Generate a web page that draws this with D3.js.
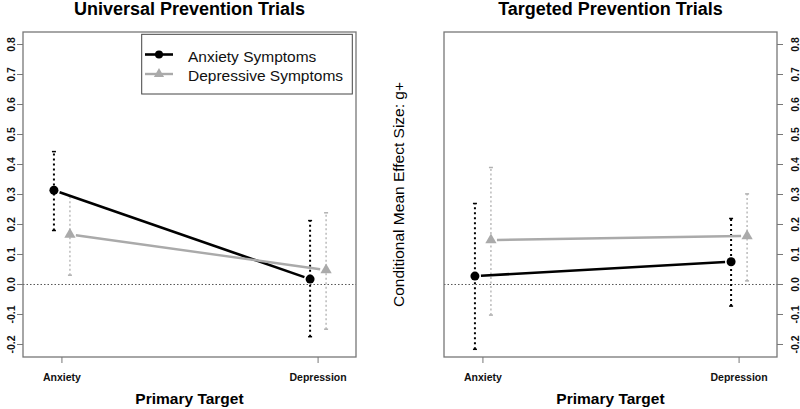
<!DOCTYPE html>
<html><head><meta charset="utf-8">
<script src="https://cdn.jsdelivr.net/npm/d3@7"></script>
<style>body{margin:0;background:#fff}svg{display:block}text{font-family:"Liberation Sans",Arial,sans-serif}</style>
</head><body><svg id="c" width="800" height="409"></svg>
<script>
const categories = ["Anxiety", "Depression"];
const yTicks = [-0.2, -0.1, 0.0, 0.1, 0.2, 0.3, 0.4, 0.5, 0.6, 0.7, 0.8];
const seriesNames = ["Anxiety Symptoms", "Depressive Symptoms"];
const panelTitles = ["Universal Prevention Trials", "Targeted Prevention Trials"];
// Universal
const uniAnxMean = [0.314, 0.018];
const uniAnxLow  = [0.180, -0.174];
const uniAnxHigh = [0.443, 0.213];
const uniDepMean = [0.167, 0.048];
const uniDepLow  = [0.031, -0.149];
const uniDepHigh = [0.295, 0.239];
// Targeted
const tarAnxMean = [0.028, 0.076];
const tarAnxLow  = [-0.216, -0.072];
const tarAnxHigh = [0.270, 0.220];
const tarDepMean = [0.148, 0.162];
const tarDepLow  = [-0.102, 0.012];
const tarDepHigh = [0.390, 0.302];

const panels = [
  {title: panelTitles[0], x0: 23, axis: "left",
   series: [{mean: uniAnxMean, lo: uniAnxLow, hi: uniAnxHigh}, {mean: uniDepMean, lo: uniDepLow, hi: uniDepHigh}]},
  {title: panelTitles[1], x0: 444, axis: "right",
   series: [{mean: tarAnxMean, lo: tarAnxLow, hi: tarAnxHigh}, {mean: tarDepMean, lo: tarDepLow, hi: tarDepHigh}]}
];
const styles = [
  {color: "#000", lw: 2.6, ebColor: "#000", ebW: 2, ebDash: "2,3", off: -8, shape: "circle"},
  {color: "#aaaaaa", lw: 2.4, ebColor: "#b0b0b0", ebW: 1.3, ebDash: "2,2.5", off: 8, shape: "triangle"}
];

const svg = d3.select("#c");
const W = 333, plotTop = 32, plotBottom = 357;
const y = d3.scaleLinear().domain([-0.2417, 0.8417]).range([plotBottom, plotTop]);
const boxColor = "#777";

panels.forEach((p, pi) => {
  const g = svg.append("g");
  const x = d3.scaleLinear().domain([0.848, 2.148]).range([p.x0, p.x0 + W]);
  const cx = i => x(i + 1);
  g.append("line").attr("x1", p.x0).attr("x2", p.x0 + W).attr("y1", y(0)).attr("y2", y(0))
    .attr("stroke", "#555").attr("stroke-width", 1).attr("stroke-dasharray", "1.5,2");
  p.series.forEach((s, si) => {
    const st = styles[si];
    categories.forEach((c, i) => {
      const px = cx(i) + st.off;
      g.append("line").attr("x1", px).attr("x2", px).attr("y1", y(s.lo[i])).attr("y2", y(s.hi[i]))
        .attr("stroke", st.ebColor).attr("stroke-width", st.ebW).attr("stroke-dasharray", st.ebDash);
      [s.lo[i], s.hi[i]].forEach(v => {
        g.append("line").attr("x1", px - 2).attr("x2", px + 2).attr("y1", y(v)).attr("y2", y(v))
          .attr("stroke", st.ebColor).attr("stroke-width", 1.5);
      });
    });
  });
  p.series.forEach((s, si) => {
    const st = styles[si];
    const ax = cx(0) + st.off, ay = y(s.mean[0]);
    const bx = cx(1) + st.off, by = y(s.mean[1]);
    const dx = bx - ax, dy = by - ay, L = Math.hypot(dx, dy), gap = 6;
    g.append("line").attr("x1", ax + dx / L * gap).attr("y1", ay + dy / L * gap)
      .attr("x2", bx - dx / L * gap).attr("y2", by - dy / L * gap)
      .attr("stroke", st.color).attr("stroke-width", st.lw);
  });
  p.series.forEach((s, si) => {
    const st = styles[si];
    categories.forEach((c, i) => {
      const px = cx(i) + st.off, py = y(s.mean[i]);
      if (st.shape === "circle") {
        g.append("circle").attr("cx", px).attr("cy", py).attr("r", 4.5).attr("fill", st.color);
      } else {
        g.append("path").attr("d", d3.symbol(d3.symbolTriangle, 55)()).attr("transform", `translate(${px},${py})`)
          .attr("fill", st.color);
      }
    });
  });
  g.append("rect").attr("x", p.x0).attr("y", plotTop).attr("width", W).attr("height", plotBottom - plotTop)
    .attr("fill", "none").attr("stroke", boxColor).attr("stroke-width", 1.3);
  categories.forEach((c, i) => {
    g.append("line").attr("x1", cx(i)).attr("x2", cx(i)).attr("y1", plotBottom).attr("y2", plotBottom + 6)
      .attr("stroke", boxColor).attr("stroke-width", 1);
    g.append("text").attr("x", cx(i)).attr("y", 381).attr("text-anchor", "middle")
      .attr("font-size", "10.5px").attr("font-weight", "bold").attr("fill", "#111").text(c);
  });
  const isLeft = p.axis === "left";
  const ax0 = isLeft ? p.x0 : p.x0 + W;
  const tdir = isLeft ? -6 : 6;
  yTicks.forEach(t => {
    g.append("line").attr("x1", ax0).attr("x2", ax0 + tdir).attr("y1", y(t)).attr("y2", y(t))
      .attr("stroke", boxColor).attr("stroke-width", 1);
    const lx = isLeft ? 14.5 : 799;
    g.append("text").attr("transform", `translate(${lx},${y(t)}) rotate(-90)`).attr("text-anchor", "middle")
      .attr("font-size", "10.5px").attr("font-weight", "bold").attr("fill", "#111").text(t.toFixed(1));
  });
  g.append("text").attr("x", p.x0 + W / 2).attr("y", 15).attr("text-anchor", "middle")
    .attr("font-size", "18px").attr("font-weight", "bold").attr("fill", "#000").text(p.title);
  g.append("text").attr("x", p.x0 + W / 2).attr("y", 404).attr("text-anchor", "middle")
    .attr("font-size", "15.5px").attr("font-weight", "bold").attr("fill", "#000").text("Primary Target");
});

svg.append("text").attr("transform", `translate(404,${(plotTop + plotBottom) / 2}) rotate(-90)`).attr("text-anchor", "middle")
  .attr("font-size", "15.5px").attr("fill", "#000").text("Conditional Mean Effect Size: g+");

const lg = svg.append("g");
lg.append("rect").attr("x", 141.7).attr("y", 34.3).attr("width", 210.6).attr("height", 59.7)
  .attr("fill", "#fff").attr("stroke", "#444").attr("stroke-width", 1);
seriesNames.forEach((n, i) => {
  const st = styles[i];
  const ly = 54.5 + i * 19.5;
  lg.append("line").attr("x1", 145).attr("x2", 173).attr("y1", ly).attr("y2", ly)
    .attr("stroke", st.color).attr("stroke-width", st.lw);
  if (st.shape === "circle") lg.append("circle").attr("cx", 159).attr("cy", ly).attr("r", 4).attr("fill", st.color);
  else lg.append("path").attr("d", d3.symbol(d3.symbolTriangle, 45)()).attr("transform", `translate(159,${ly})`).attr("fill", st.color);
  lg.append("text").attr("x", 188).attr("y", 61.5 + i * 19.5).attr("font-size", "15.5px").attr("fill", "#111").text(n);
});
</script></body></html>
